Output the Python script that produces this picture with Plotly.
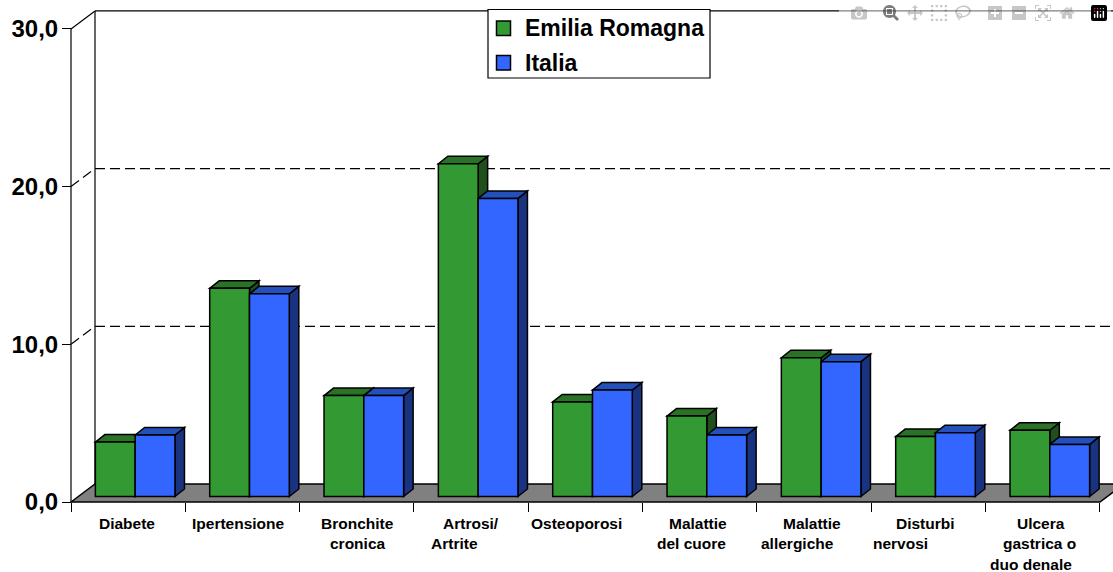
#!/usr/bin/env python3
"""3D-look column chart: Emilia Romagna vs Italia, drawn with plotly bars and layout shapes."""
import plotly.graph_objects as go

# Data
categories = ['Diabete', 'Ipertensione', 'Bronchite\ncronica', 'Artrosi/\nArtrite', 'Osteoporosi',
              'Malattie\ndel cuore', 'Malattie\nallergiche', 'Disturbi\nnervosi',
              'Ulcera\ngastrica o\nduo denale']
emilia_romagna = [3.45, 13.2, 6.4, 21.1, 6.0, 5.1, 8.8, 3.8, 4.2]
italia = [3.9, 12.85, 6.4, 18.9, 6.75, 3.9, 8.55, 4.05, 3.3]
y_ticks = [0, 10, 20, 30]
y_tick_labels = ['0,0', '10,0', '20,0', '30,0']

# Canvas and axis calibration (pixels)
W, H = 1113, 572
X0, Y0 = 71, 502
PX_PER_CAT = 114.33
PX_PER_UNIT = 15.77

# 3D offsets, converted to data units
def dx(px):
    return px / PX_PER_CAT

def dy(px):
    return px / PX_PER_UNIT

WALL_X, WALL_Y = dx(24), dy(18)
DEPTH_X, DEPTH_Y = dx(9.5), dy(7.5)
BASE = dy(5.5)
BAR_W = dx(39.8)
BAR_SHIFT = dx(7)

GREEN, GREEN_TOP, GREEN_SIDE = '#339933', '#2a7326', '#1f4f1c'
BLUE, BLUE_TOP, BLUE_SIDE = '#3366ff', '#2450bb', '#1a3380'
FONT = 'Liberation Sans'

# label offsets per line, relative to the category centre (pixels)
line_shifts = [[-1], [-4], [1, 1], [0, -16.5], [-9], [-2, -8], [-2, -17], [-3, -28], [-2, -3, -12]]


def poly(points):
    return 'M' + ' L'.join(f'{x},{y}' for x, y in points) + ' Z'


def seg(x0, y0, x1, y1, dash='solid', width=1.2):
    return dict(type='line', xref='x', yref='y', x0=x0, y0=y0, x1=x1, y1=y1, layer='below',
                line=dict(color='black', width=width, dash=dash))


def face(points, color):
    return dict(type='path', xref='x', yref='y', path=poly(points), fillcolor=color, layer='below',
                line=dict(color='black', width=1.5))


n = len(categories)
shapes = []

# walls: back edge, grid lines and the slanted joins to the value axis
shapes.append(seg(WALL_X, WALL_Y, WALL_X, 30 + WALL_Y))
shapes.append(seg(WALL_X, 30 + WALL_Y, n + WALL_X, 30 + WALL_Y))
shapes.append(seg(0, 30, WALL_X, 30 + WALL_Y))
for v in y_ticks[1:3]:
    shapes.append(seg(WALL_X, v + WALL_Y, n + WALL_X, v + WALL_Y, dash='10px,5px'))
    shapes.append(seg(0, v, WALL_X, v + WALL_Y, dash='10px,5px'))
shapes.append(seg(0, 0, 0, 30))

# floor
shapes.append(face([(0, 0), (WALL_X, WALL_Y), (n + WALL_X, WALL_Y), (n, 0)], '#808080'))

# top and side faces of the columns, green first so blue overlaps it
for i in range(n):
    c = i + 0.5 + BAR_SHIFT
    for j, (vals, top, side) in enumerate([(emilia_romagna, GREEN_TOP, GREEN_SIDE),
                                           (italia, BLUE_TOP, BLUE_SIDE)]):
        left = c + (j - 1) * BAR_W
        right = left + BAR_W
        y = BASE + vals[i]
        shapes.append(face([(right, BASE), (right + DEPTH_X, BASE + DEPTH_Y),
                            (right + DEPTH_X, y + DEPTH_Y), (right, y)], side))
        shapes.append(face([(left, y), (left + DEPTH_X, y + DEPTH_Y),
                            (right + DEPTH_X, y + DEPTH_Y), (right, y)], top))

# legend box (paper coordinates from pixels)
def paper_rect(x0, y0, x1, y1, color, width):
    return dict(type='rect', xref='paper', yref='paper', x0=x0 / W, x1=x1 / W,
                y0=1 - y0 / H, y1=1 - y1 / H, fillcolor=color, layer='above',
                line=dict(color='black', width=width))


shapes.append(paper_rect(488, 9.5, 710, 78, 'white', 1.2))
shapes.append(paper_rect(496.5, 21, 510.5, 35.5, GREEN, 1.5))
shapes.append(paper_rect(496.5, 55.5, 510.5, 70, BLUE, 1.5))

annotations = []
for name, py in [('Emilia Romagna', 28), ('Italia', 63)]:
    annotations.append(dict(text=name, xref='paper', yref='paper', x=523 / W, y=1 - py / H,
                            xanchor='left', yanchor='middle', showarrow=False,
                            font=dict(family=FONT, size=23, color='black', weight=700)))

# category labels
for i, label in enumerate(categories):
    for k, line in enumerate(label.split('\n')):
        annotations.append(dict(text=line, xref='x', yref='y', x=i + 0.5, y=0,
                                xshift=line_shifts[i][k], yshift=-21 - 20.5 * k,
                                xanchor='center', yanchor='middle', showarrow=False,
                                font=dict(family=FONT, size=15.5, color='black', weight=700)))

fig = go.Figure()
x_green = [i + 0.5 + BAR_SHIFT - BAR_W / 2 for i in range(n)]
x_blue = [i + 0.5 + BAR_SHIFT + BAR_W / 2 for i in range(n)]
fig.add_trace(go.Bar(name='Emilia Romagna', x=x_green, y=emilia_romagna, base=BASE, width=BAR_W,
                     marker=dict(color=GREEN, line=dict(color='black', width=1.5))))
fig.add_trace(go.Bar(name='Italia', x=x_blue, y=italia, base=BASE, width=BAR_W,
                     marker=dict(color=BLUE, line=dict(color='black', width=1.5))))

fig.update_layout(
    width=W, height=H, margin=dict(l=0, r=0, t=0, b=0),
    paper_bgcolor='white', plot_bgcolor='white',
    barmode='overlay', showlegend=False, shapes=shapes, annotations=annotations,
    xaxis=dict(range=[-X0 / PX_PER_CAT, (W - X0) / PX_PER_CAT], anchor='free', position=(H - Y0) / H,
               tickvals=list(range(n + 1)), ticks='outside', ticklen=9, tickwidth=1.2, tickcolor='black',
               showticklabels=False, showgrid=False, zeroline=False, showline=False),
    yaxis=dict(range=[-(H - Y0) / PX_PER_UNIT, Y0 / PX_PER_UNIT], anchor='free', position=X0 / W,
               tickvals=y_ticks, ticktext=y_tick_labels, ticks='outside', ticklen=9, tickwidth=1.2,
               tickcolor='black', showgrid=False, zeroline=False, showline=False, ticklabelstandoff=-1,
               tickfont=dict(family=FONT, size=24, color='black', weight=700)),
)

# the page body has a default 8px margin, which would shift the fixed-size chart
fig.write_html("out.html", post_script="document.body.style.margin = '0';")
